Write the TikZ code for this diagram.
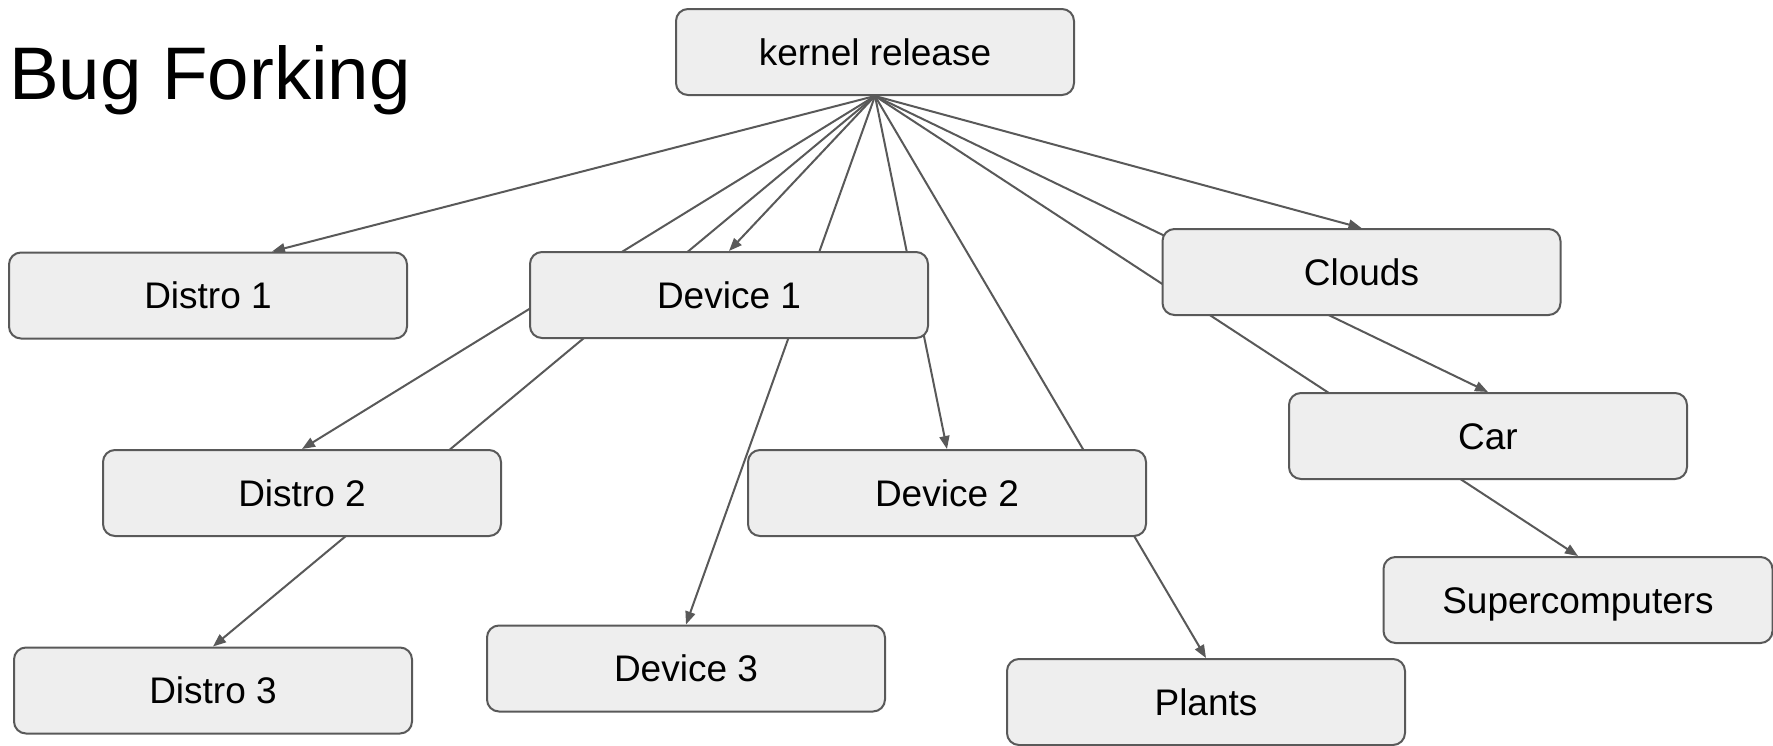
\documentclass[tikz,border=0pt]{standalone}
\usepackage{fontspec}
\setmainfont{Liberation Sans}
\usetikzlibrary{arrows.meta,backgrounds}
\definecolor{boxfill}{HTML}{EEEEEE}
\definecolor{linegray}{HTML}{595959}
\begin{document}
\begin{tikzpicture}[x=1pt,y=-1pt,
  box/.style={draw=linegray, fill=boxfill, line width=2pt, rounded corners=12pt,
    minimum width=398pt, minimum height=86pt, text height=26.5pt, text depth=0pt,
    inner sep=0pt, font=\fontsize{37}{44}\selectfont},
  link/.style={draw=linegray, line width=2pt, -{Triangle[length=13pt,width=10pt]}}]
\useasboundingbox (0,0) rectangle (1773,745);
\node[anchor=base west, inner sep=0pt, font=\fontsize{74.5}{90}\selectfont] (title) at (9,99) {Bug Forking};
\node[box] (kernel) at (875,52) {kernel release};
\node[box] (d1) at (208,295.5) {Distro 1};
\node[box] (dev1) at (729,295) {Device 1};
\node[box] (clouds) at (1361.5,272) {Clouds};
\node[box] (d2) at (302,493) {Distro 2};
\node[box] (dev2) at (947,493) {Device 2};
\node[box] (car) at (1488,436) {Car};
\node[box, minimum width=389pt] (super) at (1578,600) {Supercomputers};
\node[box] (d3) at (213,690.5) {Distro 3};
\node[box] (dev3) at (686,668.5) {Device 3};
\node[box] (plants) at (1206,702) {Plants};
\coordinate (d1in) at ([xshift=64pt]d1.north);
\begin{scope}[on background layer]
\draw[link] (kernel.south) -- (d1in);
\foreach \t in {dev1,d2,d3,dev3,dev2,plants,clouds,car,super}
  \draw[link] (kernel.south) -- (\t.north);
\end{scope}
\end{tikzpicture}
\end{document}
